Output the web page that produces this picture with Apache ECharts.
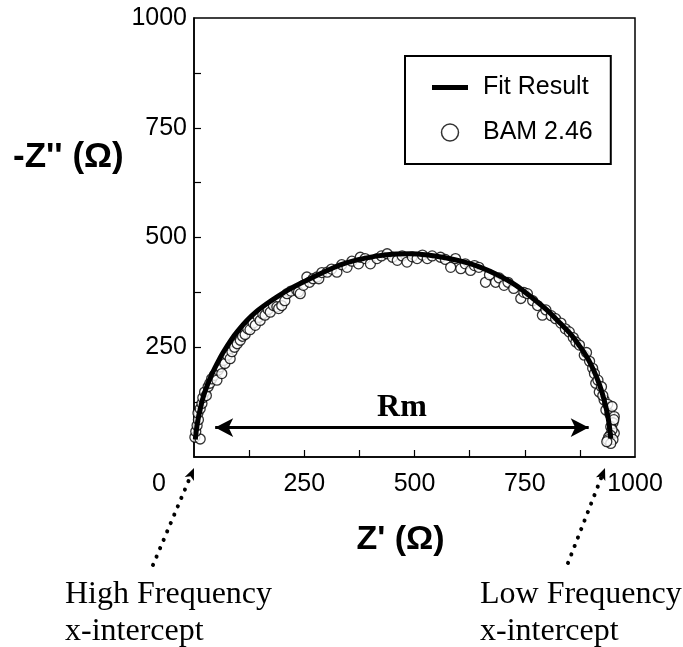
<!DOCTYPE html>
<html><head><meta charset="utf-8">
<script src="https://cdn.jsdelivr.net/npm/echarts@6/dist/echarts.min.js"></script>
<style>html,body{margin:0;padding:0;background:#fff}#c{width:683px;height:647px}</style>
</head><body><div id="c"></div>
<script>
// Axis ticks / labels
const xLabelValues = [0, 250, 500, 750, 1000];
const yLabelValues = [250, 500, 750, 1000];
const minorTickValues = [125, 250, 375, 500, 625, 750, 875];

// Fit result curve (Z', -Z'')
const fitX = [3, 6, 10, 15, 21, 30, 42, 55, 66, 85, 100, 120, 140, 165, 190, 220, 255, 290, 330, 370, 410, 450, 490, 530, 570, 610, 650, 690, 730, 770, 800, 830, 855, 875, 892, 907, 920, 930, 937, 942, 945];
const fitY = [40, 66, 90, 113, 137, 163, 192, 218, 238, 268, 288, 311, 330, 349, 366, 384, 402, 419, 437, 449, 457, 462, 463, 460, 454, 445, 432, 414, 391, 360, 335, 305, 279, 252, 226, 196, 163, 130, 100, 70, 42];

// Measured data BAM 2.46
const dataX = [2,14,4,7,10,9,14,18,20,24,28,32,36,40,46,52,55,59,63,67,70,76,82,86,92,98,105,110,116,122,127,134,139,146,150,156,161,168,173,180,188,192,199,206,211,220,233,237,241,248,256,262,270,279,283,290,302,312,324,335,347,358,373,377,388,400,415,425,438,450,461,472,483,495,506,518,529,540,559,570,582,593,605,615,627,636,646,661,670,684,692,703,712,725,741,748,756,768,779,790,798,810,820,832,842,851,860,866,874,885,890,897,904,908,911,916,919,924,930,927,934,938,943,948,953,950,945,952,953,948,944,940,938,950,945,936];
const dataY = [45,41,58,72,85,100,110,122,135,148,140,160,168,178,186,175,198,205,190,220,213,232,224,240,250,258,266,275,279,292,290,305,300,318,311,326,323,336,330,345,342,338,345,356,372,378,380,376,372,391,410,398,406,410,406,420,421,428,421,438,432,446,440,455,452,440,452,458,463,455,448,458,444,456,452,460,452,458,455,450,432,452,429,440,425,436,432,398,415,398,408,391,398,384,361,375,372,356,345,323,335,322,315,305,292,285,272,262,255,232,238,218,202,190,168,175,148,160,130,140,107,120,98,115,92,78,69,85,54,62,50,45,39,40,31,35];

// Rm annotation span (Z' values) and height
const rmX = [48, 895];
const rmY = 67;

const sans = "'Liberation Sans', Arial, Helvetica, sans-serif";
const serif = "'Liberation Serif', 'Times New Roman', serif";

const fitData = fitX.map((x, i) => [x, fitY[i]]);
const scatterData = dataX.map((x, i) => [x, dataY[i]]);

const chart = echarts.init(document.getElementById('c'), null, {renderer: 'canvas'});

function dottedArrow(x0, y0, x1, y1) {
  const dx = x1 - x0, dy = y1 - y0, L = Math.hypot(dx, dy);
  const ux = dx / L, uy = dy / L;
  const hl = 12, hw = 5;
  const bx = x1 - ux * hl, by = y1 - uy * hl;
  const px = -uy * hw, py = ux * hw;
  return [
    {type: 'polyline', shape: {points: [[x0, y0], [bx + ux * 2, by + uy * 2]]},
     style: {stroke: '#000', lineWidth: 4, lineDash: [0.1, 9], lineCap: 'round', fill: null}},
    {type: 'polygon', shape: {points: [[x1, y1], [bx + px, by + py], [bx + ux * 3, by + uy * 3], [bx - px, by - py]]},
     style: {fill: '#000'}}
  ];
}

const option = {
  animation: false,
  backgroundColor: '#fff',
  title: {
    text: "-Z'' (Ω)", left: 8, top: 135,
    textStyle: {fontSize: 35, fontWeight: 'bold', color: '#000', fontFamily: sans}
  },
  grid: {left: 194, top: 18, width: 441, height: 439, show: true, borderColor: '#000', borderWidth: 1.5, containLabel: false},
  legend: {
    orient: 'vertical', left: 405, top: 56, align: 'left',
    itemWidth: 36, itemHeight: 17, itemGap: 20,
    padding: [19, 18, 19, 27],
    borderColor: '#000', borderWidth: 2, backgroundColor: '#fff',
    textStyle: {fontSize: 25, color: '#000', fontFamily: sans, padding: [0, 0, 0, 10], lineHeight: 25},
    data: [
      {name: 'Fit Result', icon: 'path://M0,0H36V5H0Z', itemStyle: {color: '#000', borderWidth: 0}},
      {name: 'BAM 2.46', icon: 'circle', itemStyle: {color: '#fff', borderColor: '#000', borderWidth: 1.5}}
    ]
  },
  xAxis: {
    type: 'value', min: 0, max: 1000, interval: 125,
    name: "Z' (Ω)", nameLocation: 'middle', nameGap: 66,
    nameTextStyle: {fontSize: 34, fontWeight: 'bold', color: '#000', fontFamily: sans, padding: [0, 28, 0, 0]},
    axisLine: {lineStyle: {color: '#000', width: 1.5}},
    axisTick: {inside: true, length: 7, lineStyle: {color: '#000', width: 1.2}, customValues: minorTickValues},
    axisLabel: {
      customValues: xLabelValues, margin: 15, fontSize: 25, color: '#000', fontFamily: sans,
      formatter: v => v === 0 ? '{z|0}' : String(v),
      rich: {z: {fontSize: 25, color: '#000', fontFamily: sans, padding: [0, 70, 0, 0]}}
    },
    splitLine: {show: false}
  },
  yAxis: {
    type: 'value', min: 0, max: 1000, interval: 125,
    axisLine: {lineStyle: {color: '#000', width: 1.5}},
    axisTick: {inside: true, length: 7, lineStyle: {color: '#000', width: 1.2}, customValues: minorTickValues},
    axisLabel: {customValues: yLabelValues, margin: 7, fontSize: 25, color: '#000', fontFamily: sans, formatter: v => String(v)},
    splitLine: {show: false}
  },
  series: [
    {
      name: 'BAM 2.46', type: 'scatter', data: scatterData, symbol: 'circle', symbolSize: 10,
      itemStyle: {color: '#fff', borderColor: '#000', borderWidth: 1.3}, z: 2, silent: true
    },
    {
      name: 'Fit Result', type: 'line', data: fitData, symbol: 'none', smooth: 0.3,
      itemStyle: {color: '#000'},
      lineStyle: {color: '#000', width: 5}, z: 3, silent: true,
      markLine: {
        silent: true, symbol: ['arrow', 'arrow'], symbolSize: [14, 18],
        lineStyle: {color: '#000', width: 3, type: 'solid'},
        label: {show: true, position: 'middle', formatter: 'Rm', fontSize: 32, fontWeight: 'bold', fontFamily: serif, color: '#000', distance: 4},
        emphasis: {disabled: true},
        data: [[{coord: [rmX[0], rmY]}, {coord: [rmX[1], rmY]}]]
      }
    }
  ],
  graphic: [
    ...dottedArrow(153, 565, 194, 468),
    ...dottedArrow(568, 563, 605, 468),
    {type: 'text', left: 65, top: 576, style: {text: 'High Frequency\nx-intercept', font: '32px ' + serif, fill: '#000', lineHeight: 37}},
    {type: 'text', left: 480, top: 576, style: {text: 'Low Frequency\nx-intercept', font: '32px ' + serif, fill: '#000', lineHeight: 37}}
  ]
};
chart.setOption(option);
</script>
</body></html>
